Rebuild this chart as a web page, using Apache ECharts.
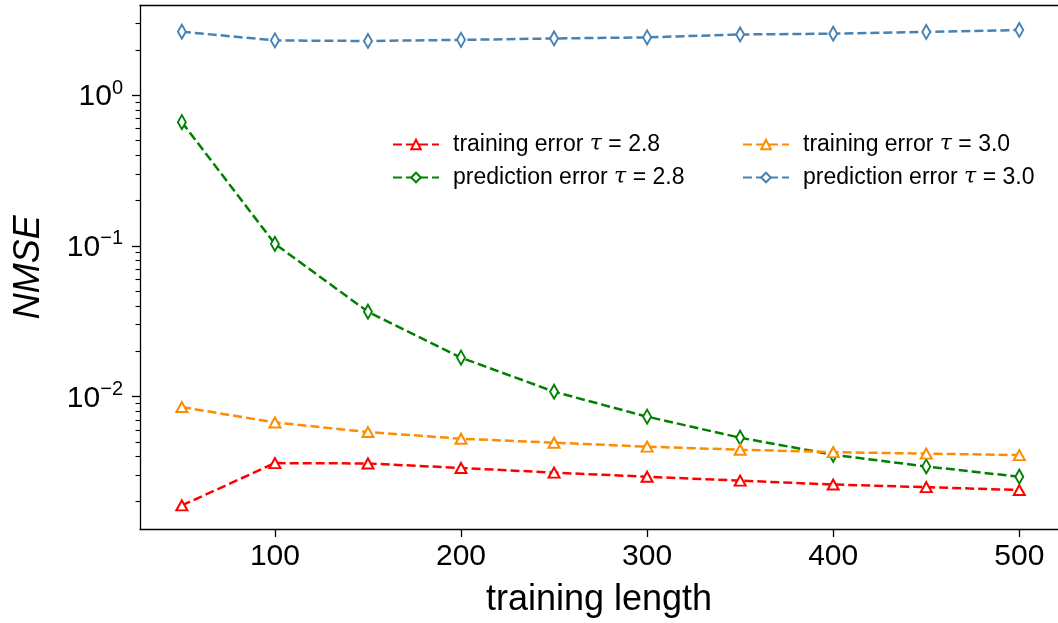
<!DOCTYPE html>
<html>
<head>
<meta charset="utf-8">
<script src="https://cdn.jsdelivr.net/npm/echarts@6/dist/echarts.min.js"></script>
<style>
  html, body { margin: 0; padding: 0; background: #fff; }
  #chart { width: 1058px; height: 623px; }
</style>
</head>
<body>
<div id="chart"></div>
<script>
// Training lengths on the x axis
const trainingLength = [50, 100, 150, 200, 250, 300, 350, 400, 450, 500];

// NMSE for each run
const trainErr28 = [0.00189, 0.00361, 0.00359, 0.00335, 0.00312, 0.00293, 0.00276, 0.00260, 0.00250, 0.00239];
const predErr28  = [0.662, 0.103, 0.0365, 0.0181, 0.01075, 0.00734, 0.00532, 0.00410, 0.00343, 0.00293];
const trainErr30 = [0.00850, 0.00672, 0.00580, 0.00524, 0.00493, 0.00464, 0.00443, 0.00427, 0.00417, 0.00408];
const predErr30  = [2.64, 2.31, 2.29, 2.33, 2.38, 2.42, 2.53, 2.56, 2.63, 2.71];

// Series names
const seriesNames = [
  'training error τ = 2.8',
  'prediction error τ = 2.8',
  'training error τ = 3.0',
  'prediction error τ = 3.0'
];

// Tick positions
const xTicks = [100, 200, 300, 400, 500];
const yMajorTicks = [0.01, 0.1, 1];
const yMinorTicks = [0.002, 0.003, 0.004, 0.005, 0.006, 0.007, 0.008, 0.009,
                     0.02, 0.03, 0.04, 0.05, 0.06, 0.07, 0.08, 0.09,
                     0.2, 0.3, 0.4, 0.5, 0.6, 0.7, 0.8, 0.9, 2, 3];

const FONT = '"Liberation Sans", Arial, Helvetica, sans-serif';
const X_MIN = 27.5, X_MAX = 520.8;
const Y_MIN = 0.001318, Y_MAX = 3.94;

function pairs(ys) {
  return trainingLength.map((x, i) => [x, ys[i]]);
}

function lineSeries(name, ys, color, symbol, size) {
  return {
    name: name,
    type: 'line',
    data: pairs(ys),
    symbol: symbol,
    symbolSize: size,
    showAllSymbol: true,
    lineStyle: { color: color, width: 2.5, type: [9, 4] },
    itemStyle: { color: '#fff', borderColor: color, borderWidth: 2 },
    emphasis: { disabled: true }
  };
}

function legendText(name) {
  const parts = name.split('τ');
  return '{a|' + parts[0] + '}{t|τ}{a|' + parts[1] + '}';
}

const legendStyle = {
  orient: 'vertical',
  itemWidth: 46,
  itemHeight: 12,
  itemGap: 10,
  formatter: legendText,
  textStyle: {
    padding: [0, 0, 0, 9],
    rich: {
      a: { fontFamily: FONT, fontSize: 23, color: '#000' },
      t: { fontFamily: '"DejaVu Serif", serif', fontStyle: 'italic', fontSize: 22, color: '#000' }
    }
  }
};

const chart = echarts.init(document.getElementById('chart'), null, { renderer: 'canvas' });

const spine = { show: true, lineStyle: { color: '#000', width: 1.3 } };

chart.setOption({
  animation: false,
  backgroundColor: '#fff',
  grid: { left: 140, top: 5.5, right: 0, bottom: 93.7 },
  legend: [
    Object.assign({ left: 387, top: 128, data: [seriesNames[0], seriesNames[1]] }, legendStyle),
    Object.assign({ left: 737, top: 128, data: [seriesNames[2], seriesNames[3]] }, legendStyle)
  ],
  xAxis: [
    {
      type: 'value',
      min: X_MIN,
      max: X_MAX,
      name: 'training length',
      nameLocation: 'middle',
      nameGap: 53,
      nameTextStyle: { fontFamily: FONT, fontSize: 36, color: '#000', verticalAlign: 'top' },
      axisLine: spine,
      splitLine: { show: false },
      axisTick: { show: true, length: 8, lineStyle: { color: '#000', width: 1.3 }, customValues: xTicks },
      axisLabel: { fontFamily: FONT, fontSize: 30, color: '#000', margin: 13, customValues: xTicks }
    },
    {
      // top frame line
      type: 'value',
      position: 'top',
      min: X_MIN,
      max: X_MAX,
      axisLine: spine,
      axisTick: { show: false },
      axisLabel: { show: false },
      splitLine: { show: false }
    }
  ],
  yAxis: [
    {
      type: 'log',
      logBase: 10,
      min: Y_MIN,
      max: Y_MAX,
      name: 'NMSE',
      nameLocation: 'middle',
      nameGap: 93,
      nameTextStyle: { fontFamily: FONT, fontSize: 36, fontStyle: 'italic', color: '#000' },
      axisLine: spine,
      splitLine: { show: false },
      axisTick: { show: true, length: 8, lineStyle: { color: '#000', width: 1.3 }, customValues: yMajorTicks },
      axisLabel: {
        margin: 17,
        customValues: yMajorTicks,
        formatter: function (v) {
          const e = Math.round(Math.log10(v));
          return '{b|10}{s|' + (e < 0 ? '\u2212' + Math.abs(e) : String(e)) + '}';
        },
        rich: {
          b: { fontFamily: FONT, fontSize: 30, color: '#000', lineHeight: 34, verticalAlign: 'bottom' },
          s: { fontFamily: FONT, fontSize: 20, color: '#000', lineHeight: 20, verticalAlign: 'top' }
        }
      }
    },
    {
      // minor ticks of the log axis
      type: 'log',
      logBase: 10,
      min: Y_MIN,
      max: Y_MAX,
      position: 'left',
      axisLine: { show: false },
      splitLine: { show: false },
      axisTick: { show: true, length: 4.5, lineStyle: { color: '#000', width: 1.1 }, customValues: yMinorTicks },
      axisLabel: { show: false }
    }
  ],
  series: [
    lineSeries(seriesNames[0], trainErr28, '#ff0000', 'triangle', [11, 10]),
    lineSeries(seriesNames[1], predErr28, '#008000', 'diamond', [8, 14]),
    lineSeries(seriesNames[2], trainErr30, '#ff8c00', 'triangle', [11, 10]),
    lineSeries(seriesNames[3], predErr30, '#4682b4', 'diamond', [8, 14])
  ]
});
</script>
</body>
</html>
